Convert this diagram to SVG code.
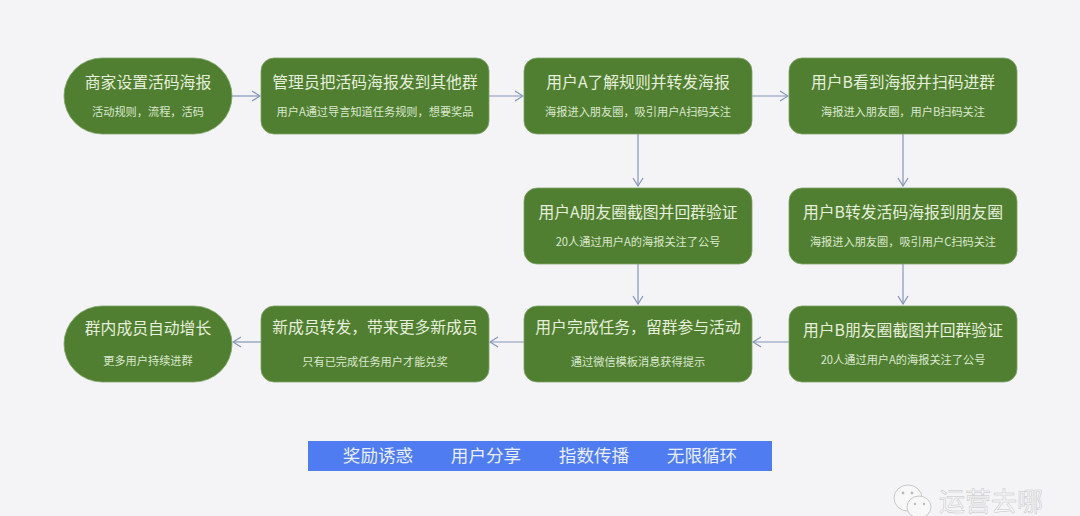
<svg xmlns="http://www.w3.org/2000/svg" width="1080" height="516" viewBox="0 0 1080 516">
<style>
text{font-family:"Noto Sans CJK SC","Liberation Sans",sans-serif;text-anchor:middle}
.n{fill:#517f31;stroke:#7fa368;stroke-width:.8}
.t{font-size:15.8px;fill:#e6efdc}
.s{font-size:11.2px;fill:#dbe8cf}
.c{fill:none;stroke:#8496b8;stroke-width:1.2;marker-end:url(#a)}
.b{font-size:17.6px;fill:#e8eefc}
.w{font-size:26px;fill:#f8f8f9;stroke:#c4c4c6;stroke-width:.5;text-anchor:start}
</style>
<defs><marker id="a" markerWidth="10" markerHeight="12" refX="9" refY="6" orient="auto" markerUnits="userSpaceOnUse"><path d="M1 1L9 6L1 11" fill="none" stroke="#8496b8" stroke-width="1.2"/></marker></defs>
<rect width="1080" height="516" fill="#f4f4f7"/>
<g id="connectors">
<path class="c" d="M232 96H260"/>
<path class="c" d="M489 96H523"/>
<path class="c" d="M752 96H788"/>
<path class="c" d="M638 134V186"/>
<path class="c" d="M903 134V186"/>
<path class="c" d="M638 264V304"/>
<path class="c" d="M903 264V304"/>
<path class="c" d="M789 342H753"/>
<path class="c" d="M524 342H490"/>
<path class="c" d="M261 342H233"/>
</g>
<g id="n1"><rect class="n" x="64" y="58" width="168" height="76" rx="38"/><text class="t" x="148" y="88">商家设置活码海报</text><text class="s" x="148" y="116">活动规则，流程，活码</text></g>
<g id="n2"><rect class="n" x="261" y="58" width="228" height="76" rx="13"/><text class="t" x="375" y="88">管理员把活码海报发到其他群</text><text class="s" x="375" y="116">用户A通过导言知道任务规则，想要奖品</text></g>
<g id="n3"><rect class="n" x="524" y="58" width="228" height="76" rx="13"/><text class="t" x="638" y="88">用户A了解规则并转发海报</text><text class="s" x="638" y="116">海报进入朋友圈，吸引用户A扫码关注</text></g>
<g id="n4"><rect class="n" x="789" y="58" width="228" height="76" rx="13"/><text class="t" x="903" y="88">用户B看到海报并扫码进群</text><text class="s" x="903" y="116">海报进入朋友圈，用户B扫码关注</text></g>
<g id="n5"><rect class="n" x="524" y="188" width="228" height="76" rx="13"/><text class="t" x="638" y="218">用户A朋友圈截图并回群验证</text><text class="s" x="638" y="246">20人通过用户A的海报关注了公号</text></g>
<g id="n6"><rect class="n" x="789" y="188" width="228" height="76" rx="13"/><text class="t" x="903" y="218">用户B转发活码海报到朋友圈</text><text class="s" x="903" y="246">海报进入朋友圈，吸引用户C扫码关注</text></g>
<g id="n7"><rect class="n" x="789" y="306" width="228" height="76" rx="13"/><text class="t" x="903" y="336">用户B朋友圈截图并回群验证</text><text class="s" x="903" y="364">20人通过用户A的海报关注了公号</text></g>
<g id="n8"><rect class="n" x="524" y="306" width="228" height="76" rx="13"/><text class="t" x="638" y="333">用户完成任务，留群参与活动</text><text class="s" x="638" y="366">通过微信模板消息获得提示</text></g>
<g id="n9"><rect class="n" x="261" y="306" width="228" height="76" rx="13"/><text class="t" x="375" y="333">新成员转发，带来更多新成员</text><text class="s" x="375" y="366">只有已完成任务用户才能兑奖</text></g>
<g id="n10"><rect class="n" x="64" y="306" width="168" height="76" rx="38"/><text class="t" x="148" y="334">群内成员自动增长</text><text class="s" x="148" y="365">更多用户持续进群</text></g>
<g id="banner"><rect x="308" y="441" width="464" height="30" fill="#4f7cf0"/><text class="b" x="378" y="462">奖励诱惑</text><text class="b" x="486" y="462">用户分享</text><text class="b" x="594" y="462">指数传播</text><text class="b" x="702" y="462">无限循环</text></g>
<g id="watermark">
<ellipse cx="908" cy="498" rx="14" ry="13" fill="#f8f8f9" stroke="#c8c8ca"/>
<ellipse cx="919" cy="507" rx="12" ry="11" fill="#f8f8f9" stroke="#c8c8ca"/>
<circle cx="903" cy="493" r="1.4" fill="#bbb"/><circle cx="912" cy="493" r="1.4" fill="#bbb"/><circle cx="915" cy="504" r="1.2" fill="#bbb"/><circle cx="924" cy="504" r="1.2" fill="#bbb"/>
<text class="w" x="939" y="511">运营去哪</text>
</g>
</svg>
